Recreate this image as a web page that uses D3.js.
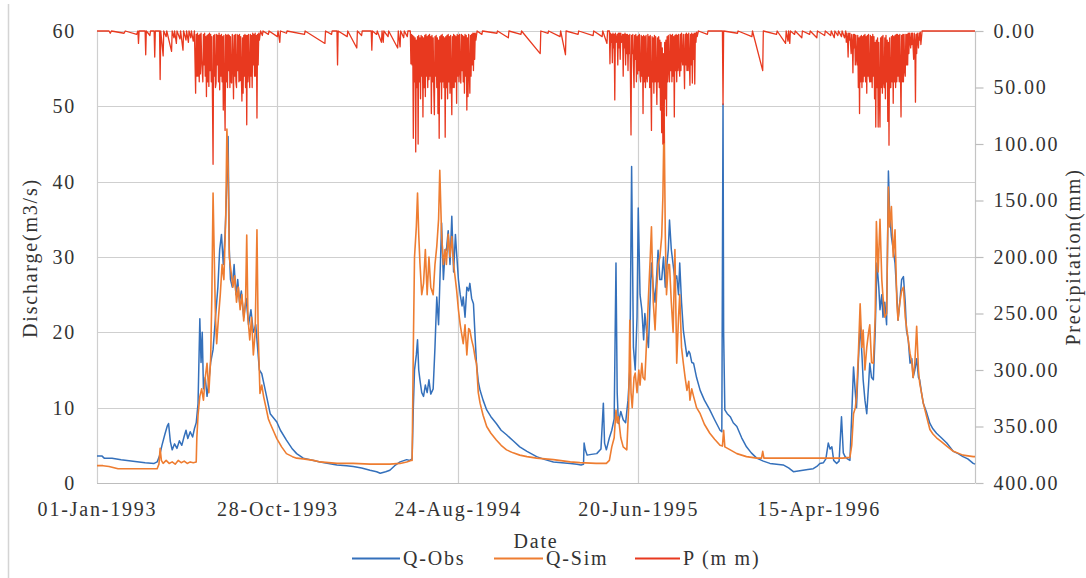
<!DOCTYPE html>
<html>
<head>
<meta charset="utf-8">
<script src="https://cdn.jsdelivr.net/npm/d3@7"></script>
<style>
  html, body { margin: 0; padding: 0; background: #fff; }
  svg { display: block; }
  text { font-family: "Liberation Serif", "Times New Roman", serif; fill: #333; }
</style>
</head>
<body>
<svg id="chart" width="1086" height="578"></svg>
<script>
// ---------- DATA (day offset from 01-Jan-1993, value) ----------
const xTickDays = [0, 300, 600, 900, 1200];
const xTickLabels = ["01-Jan-1993", "28-Oct-1993", "24-Aug-1994", "20-Jun-1995", "15-Apr-1996"];
const yLeftTicks = [0, 10, 20, 30, 40, 50, 60];
const yRightTicks = [0, 50, 100, 150, 200, 250, 300, 350, 400];
const seriesNames = ["Q-Obs", "Q-Sim", "P (m m)"];

// Observed discharge (m3/s)
const qObs = [
[0,3.6],[8,3.6],[12,3.3],[25,3.3],[40,3.1],[60,2.9],[80,2.7],[95,2.6],[100,2.8],[104,3.6],[108,5.0],[113,6.5],[117,7.6],[119,7.9],
[122,5.5],[125,4.4],[129,5.2],[133,4.6],[137,5.6],[141,5.0],[145,6.2],[148,7.0],[151,5.9],[155,6.8],[159,6.1],[162,7.2],[165,8.0],
[168,10.5],[171,21.8],[173,16.0],[175,20.0],[177,12.5],[180,14.0],[183,11.5],[186,13.5],[189,16.0],[193,17.7],[197,22.0],[201,26.0],
[204,31.0],[207,33.0],[210,29.0],[213,33.0],[216,40.0],[218,46.0],[220,31.0],[222,27.0],[225,26.0],[228,29.0],[231,25.0],[234,27.0],
[237,24.0],[240,25.5],[244,22.0],[248,24.5],[252,21.0],[256,23.0],[260,20.0],[264,21.0],[267,18.0],[270,15.0],[274,14.5],[278,13.0],
[282,11.5],[288,9.2],[294,8.6],[299,8.1],[305,7.0],[315,5.7],[325,4.5],[332,3.9],[343,3.3],[360,3.0],[371,2.8],[385,2.6],[399,2.4],
[415,2.3],[426,2.2],[440,2.0],[454,1.7],[465,1.5],[471,1.3],[480,1.5],[487,1.7],[495,2.3],[504,2.8],[515,3.1],[520,3.0],[524,3.2],
[526,10.0],[528,15.0],[531,17.0],[533,19.0],[535,15.0],[537,13.7],[540,12.0],[543,11.5],[546,13.0],[549,12.0],[552,13.7],[555,11.8],
[559,12.5],[562,18.0],[565,24.7],[568,21.0],[571,29.0],[573,34.5],[576,27.0],[579,31.0],[581,30.9],[584,33.5],[587,29.0],[590,35.4],
[593,28.0],[596,33.0],[598,30.5],[601,27.0],[604,25.0],[607,23.5],[609,24.7],[612,22.0],[615,26.0],[618,25.5],[620,26.5],[623,24.5],
[626,23.8],[629,19.0],[631,15.9],[634,13.5],[637,12.3],[642,11.0],[648,9.7],[655,8.8],[664,7.9],[672,7.0],[681,6.4],[692,5.6],
[703,4.8],[715,4.2],[731,3.5],[745,3.1],[759,2.8],[773,2.7],[787,2.6],[798,2.5],[805,2.4],[809,2.5],[810,5.3],[812,4.4],[815,3.7],
[822,3.8],[831,3.9],[838,4.5],[842,10.6],[844,5.3],[847,4.4],[852,6.0],[856,7.0],[860,8.5],[863,29.2],[865,12.0],[867,7.9],[871,9.5],
[875,8.4],[879,8.0],[883,11.0],[886,15.0],[889,42.0],[892,18.0],[895,15.0],[898,22.0],[900,36.5],[903,25.0],[906,23.0],[909,19.0],
[911,22.5],[914,20.0],[917,18.0],[920,25.0],[922,29.2],[925,26.0],[928,24.0],[931,28.0],[933,30.9],[936,27.0],[939,27.0],[942,30.0],
[945,26.0],[947,28.3],[950,31.0],[952,34.9],[955,31.0],[958,29.0],[961,27.0],[964,27.5],[967,25.0],[969,29.2],[972,24.0],[975,20.3],
[978,18.5],[981,16.8],[984,17.5],[986,17.2],[989,16.0],[992,15.9],[997,14.0],[1003,12.3],[1010,11.0],[1019,9.7],[1027,8.4],[1036,7.0],
[1039,6.8],[1041,50.3],[1042,20.0],[1044,9.7],[1048,9.2],[1053,8.8],[1058,8.0],[1064,7.5],[1072,6.0],[1080,4.8],[1088,4.0],[1097,3.3],
[1108,2.9],[1119,2.6],[1130,2.5],[1141,2.4],[1150,2.0],[1158,1.5],[1166,1.6],[1174,1.7],[1182,1.8],[1191,1.9],[1197,2.2],[1202,2.6],
[1208,2.7],[1212,3.2],[1216,5.3],[1219,4.5],[1222,4.8],[1225,3.0],[1230,2.6],[1234,2.9],[1238,8.8],[1241,4.0],[1244,3.5],[1248,3.2],
[1252,3.0],[1255,9.0],[1258,15.4],[1261,12.0],[1263,10.0],[1266,16.0],[1269,21.2],[1272,17.0],[1274,13.7],[1277,11.0],[1280,9.2],
[1283,13.0],[1285,15.9],[1288,14.0],[1291,13.7],[1294,20.0],[1297,29.2],[1300,26.0],[1302,23.0],[1305,25.0],[1307,22.0],[1310,24.0],
[1313,21.0],[1316,41.4],[1318,36.0],[1321,32.7],[1324,31.0],[1327,29.2],[1330,25.0],[1332,21.6],[1335,24.0],[1338,27.0],[1341,27.4],
[1344,24.0],[1346,20.3],[1349,19.0],[1352,15.9],[1355,16.5],[1357,14.0],[1360,15.0],[1363,16.5],[1366,14.0],[1368,13.7],[1371,12.0],
[1374,10.6],[1379,9.5],[1385,7.9],[1390,7.2],[1396,6.6],[1404,6.0],[1413,5.3],[1424,4.2],[1432,3.9],[1440,3.5],[1448,3.2],[1457,2.6],
[1460,2.5]
];

// Simulated discharge (m3/s)
const qSim = [
[0,2.3],[10,2.3],[20,2.2],[30,2.0],[35,1.9],[60,1.9],[90,1.9],[100,1.9],[103,2.5],[105,4.6],[107,3.0],[110,2.6],[115,3.0],[120,2.6],
[125,2.8],[130,2.5],[135,3.0],[140,2.7],[145,2.9],[150,2.6],[155,2.8],[160,2.7],[165,2.8],[166,6.0],[168,9.0],[171,11.5],[174,12.5],
[177,11.0],[180,14.0],[183,15.9],[186,12.0],[189,16.5],[191,25.0],[193,38.5],[195,30.0],[197,22.0],[199,18.5],[202,22.0],[205,25.0],
[208,29.0],[211,27.0],[214,35.0],[216,47.0],[218,42.0],[220,30.0],[223,28.0],[226,26.0],[229,27.5],[232,24.0],[235,26.0],[238,23.0],
[241,25.0],[244,21.5],[247,24.0],[249,32.9],[251,22.0],[254,19.0],[257,22.0],[260,17.0],[263,20.0],[266,33.6],[268,20.0],[271,11.9],
[274,13.0],[277,11.5],[281,10.0],[285,8.5],[288,7.9],[294,6.8],[299,5.9],[307,4.8],[315,3.9],[325,3.5],[332,3.3],[343,3.2],[360,3.0],
[371,2.8],[385,2.7],[399,2.6],[426,2.6],[454,2.5],[487,2.5],[504,2.6],[515,2.8],[522,3.0],[524,3.0],[526,18.0],[528,30.0],[531,34.0],
[533,38.5],[535,33.0],[537,29.2],[540,25.0],[543,26.5],[546,31.0],[549,25.0],[552,30.0],[555,26.0],[559,25.0],[562,29.0],[565,31.4],
[568,35.0],[570,41.5],[573,33.0],[576,29.0],[579,31.0],[581,29.0],[584,33.0],[587,30.0],[590,32.7],[593,29.0],[596,27.0],[598,25.6],
[601,23.0],[604,21.0],[607,19.5],[609,18.5],[612,21.0],[615,17.0],[618,20.5],[620,20.3],[623,19.0],[626,18.0],[629,16.5],[631,15.9],
[634,12.0],[637,10.6],[642,9.0],[648,7.5],[655,6.6],[664,5.7],[672,5.0],[681,4.4],[692,4.0],[703,3.7],[715,3.5],[731,3.3],[759,3.1],
[787,2.8],[803,2.7],[830,2.6],[847,2.6],[852,3.0],[856,4.8],[860,6.0],[863,9.7],[865,8.0],[867,8.8],[871,6.0],[875,4.8],[881,4.4],
[884,10.0],[886,21.6],[888,12.0],[890,10.0],[893,14.0],[895,14.6],[898,12.0],[901,15.0],[903,13.0],[906,15.9],[908,14.0],[911,13.7],
[914,19.0],[917,24.7],[920,30.0],[922,34.0],[925,24.0],[928,20.3],[931,26.0],[933,29.0],[936,30.0],[939,32.7],[941,38.0],[943,49.0],
[945,33.0],[947,25.0],[950,29.0],[952,29.0],[955,24.0],[958,20.0],[961,31.0],[964,15.9],[967,22.0],[969,25.0],[972,18.0],[975,15.9],
[978,14.0],[981,12.3],[984,13.5],[986,11.0],[989,12.5],[992,11.5],[997,10.0],[1003,9.2],[1010,7.8],[1019,6.6],[1027,5.8],[1036,5.0],
[1040,4.9],[1042,7.0],[1044,4.8],[1053,4.4],[1064,3.9],[1080,3.5],[1097,3.3],[1105,3.3],[1107,4.2],[1109,3.3],[1119,3.3],[1141,3.3],
[1200,3.3],[1240,3.3],[1252,3.4],[1255,5.0],[1258,9.2],[1261,10.0],[1263,11.5],[1266,17.0],[1269,23.8],[1272,18.0],[1274,20.3],
[1277,15.0],[1280,18.0],[1283,20.0],[1285,21.0],[1288,16.0],[1291,15.9],[1294,22.0],[1296,34.7],[1299,28.0],[1302,35.0],[1305,27.0],
[1307,24.7],[1310,22.0],[1313,22.5],[1316,39.3],[1318,34.0],[1321,36.7],[1324,30.0],[1327,33.6],[1330,24.0],[1332,21.6],[1335,24.0],
[1338,25.5],[1341,26.0],[1344,22.0],[1346,20.8],[1349,19.0],[1352,17.2],[1355,16.0],[1357,14.0],[1360,16.0],[1363,20.8],[1366,15.0],
[1368,13.3],[1371,12.0],[1374,10.6],[1379,9.0],[1385,7.1],[1390,6.5],[1396,6.0],[1404,5.5],[1413,4.9],[1424,4.2],[1440,3.7],[1457,3.5],
[1460,3.5]
];

// Precipitation (mm), plotted on an inverted right axis
const precip = [
[0,0],[20,0],[22,2],[24,0],[45,2],[47,0],[66,3],[68,0],[69,11],[70,0],[80,0],[81,21],[82,0],[88,4],[89,0],[95,0],[96,23],[97,0],
[104,0],[105,43],[106,0],[110,22],[111,0],[115,5],[116,0],[124,18],[125,0],[128,6],[129,0],[132,11],[133,0],[138,7],[139,0],
[143,17],[144,0],[148,8],[149,0],[152,10],[153,0],[156,6],[157,0],[160,9],[162,0],
[164,55],[165,3],[166,40],[167,2],[168,40],[169,4],[170,45],[171,3],[172,38],[173,2],[174,25],[176,45],[177,3],[178,30],[179,2],
[180,40],[181,5],[182,58],[183,4],[184,45],[185,3],[186,49],[187,2],[188,35],[189,3],[190,45],[191,5],[192,60],[193,118],[194,4],
[195,40],[196,3],[197,50],[198,46],[199,3],[200,30],[201,4],[202,45],[203,2],[204,52],[205,4],[206,40],[207,3],[208,45],[209,5],
[210,70],[211,4],[212,50],[213,88],[214,3],[215,45],[216,4],[217,50],[218,3],[219,35],[220,4],[221,50],[222,5],[223,45],[224,46],
[225,3],[226,25],[227,60],[228,4],[229,40],[230,3],[231,45],[232,50],[233,3],[234,35],[235,4],[236,45],[237,3],[238,44],[239,5],
[240,40],[241,62],[242,6],[243,55],[244,4],[245,40],[246,3],[247,50],[248,4],[249,83],[250,4],[251,45],[252,3],[253,35],[254,50],
[255,3],[256,40],[257,4],[258,50],[259,2],[260,30],[261,3],[262,40],[263,2],[264,40],[265,4],[266,77],[267,3],[268,30],[269,2],
[270,8],[272,0],
[275,4],[276,0],[285,3],[286,0],[300,5],[301,0],[304,10],[305,0],[315,2],[316,0],[345,3],[346,0],[379,11],[380,0],[390,3],[391,0],
[399,0],[400,30],[401,0],[416,5],[417,0],[432,15],[433,0],[440,4],[441,0],[456,0],[457,17],[458,0],[465,3],[466,0],[473,10],[474,0],
[476,10],[477,0],[484,5],[485,0],[500,15],[501,0],[504,14],[505,0],[510,6],[511,0],[516,5],[517,0],[521,0],
[522,29],[523,3],[524,30],[525,4],[526,95],[527,5],[528,45],[529,6],[530,107],[531,8],[532,50],[533,5],[534,100],[535,4],[536,45],
[537,6],[538,60],[539,4],[540,40],[541,5],[542,76],[543,6],[544,50],[545,4],[546,58],[547,3],[548,40],[549,5],[550,50],[551,4],
[552,43],[553,3],[554,40],[555,5],[556,73],[557,4],[558,45],[559,6],[560,50],[561,74],[562,5],[563,40],[564,4],[565,50],[566,6],
[567,73],[568,8],[569,95],[570,5],[571,45],[572,4],[573,60],[574,3],[575,45],[576,5],[577,50],[578,6],[579,94],[580,5],[581,50],
[582,4],[583,60],[584,3],[585,45],[586,5],[587,55],[588,4],[589,40],[590,74],[591,5],[592,50],[593,3],[594,50],[595,4],[596,45],
[597,5],[598,64],[599,3],[600,40],[601,4],[602,45],[603,3],[604,35],[605,46],[606,3],[607,35],[608,4],[609,45],[610,5],[611,55],
[612,3],[613,40],[614,4],[615,70],[616,6],[617,58],[618,3],[619,35],[620,55],[621,4],[622,40],[623,3],[624,30],[625,2],[626,35],
[627,2],[628,25],[629,2],[630,8],[632,0],
[640,3],[641,0],[665,2],[666,0],[684,6],[685,0],[705,3],[706,0],[737,20],[738,0],[750,2],[751,0],[770,5],[771,0],[779,21],[780,0],
[800,3],[801,0],[825,4],[826,0],[840,5],[841,0],[848,11],[849,0],[852,0],
[853,29],[854,2],[855,10],[856,3],[857,28],[858,2],[859,15],[860,3],[861,61],[862,2],[863,10],[865,3],[866,30],[867,2],[868,15],
[869,2],[870,25],[871,2],[872,10],[874,3],[875,40],[876,3],[877,15],[878,2],[879,30],[880,3],[881,20],[882,3],[883,35],[884,4],
[885,20],[886,3],[887,40],[888,92],[889,4],[890,20],[891,3],[892,30],[893,50],[894,4],[895,25],[896,3],[897,45],[898,5],[899,38],
[900,4],[901,35],[902,3],[903,40],[904,45],[905,4],[906,40],[907,5],[908,73],[909,4],[910,45],[911,5],[912,50],[913,4],[914,40],
[915,45],[916,3],[917,40],[918,5],[919,50],[920,4],[921,45],[922,88],[923,5],[924,45],[925,6],[926,55],[927,4],[928,45],[929,5],
[930,40],[931,65],[932,6],[933,45],[934,5],[935,50],[936,8],[937,70],[938,10],[939,90],[940,15],[941,100],[942,20],[943,99],
[944,10],[945,60],[946,8],[947,75],[948,5],[949,45],[950,4],[951,35],[952,45],[953,3],[954,35],[955,4],[956,45],[957,3],[958,40],
[959,5],[960,76],[961,4],[962,35],[963,3],[964,45],[965,4],[966,35],[967,3],[968,30],[969,40],[970,3],[971,35],[972,2],[973,25],
[974,30],[975,3],[976,25],[977,51],[978,3],[979,30],[980,2],[981,35],[982,3],[983,35],[984,2],[985,25],[986,48],[987,3],[988,30],
[989,2],[990,46],[991,3],[992,25],[993,2],[994,47],[995,2],[996,10],[997,1],[998,5],[1000,0],
[1015,3],[1016,0],[1040,0],[1041,65],[1042,0],[1065,2],[1066,0],[1089,5],[1090,0],[1107,35],[1108,0],[1130,3],[1131,0],[1145,11],
[1146,0],[1149,9],[1150,0],[1152,11],[1153,0],[1160,3],[1161,0],[1172,6],[1173,0],[1185,3],[1186,0],[1197,6],[1198,0],[1210,4],
[1211,0],[1220,4],[1221,0],[1226,6],[1227,0],[1232,4],[1233,0],[1238,5],[1239,0],[1243,6],[1245,0],
[1246,10],[1247,2],[1248,6],[1249,23],[1250,2],[1251,8],[1252,2],[1254,20],[1255,3],[1256,10],[1257,37],[1258,3],[1259,15],
[1260,3],[1261,30],[1262,4],[1263,25],[1264,30],[1265,4],[1266,50],[1267,6],[1268,73],[1269,5],[1270,45],[1271,4],[1272,50],
[1273,5],[1274,45],[1275,4],[1276,40],[1277,3],[1278,45],[1279,5],[1280,55],[1281,4],[1282,40],[1283,3],[1284,40],[1285,45],
[1286,4],[1287,45],[1288,5],[1289,50],[1290,3],[1291,40],[1292,5],[1293,60],[1294,10],[1295,85],[1296,8],[1297,50],[1298,6],
[1299,85],[1300,10],[1301,55],[1302,85],[1303,6],[1304,50],[1305,5],[1306,55],[1307,4],[1308,45],[1309,50],[1310,6],[1311,60],
[1312,4],[1313,45],[1314,8],[1315,80],[1316,10],[1317,101],[1318,6],[1319,50],[1320,50],[1321,5],[1322,45],[1323,4],[1324,64],
[1325,5],[1326,45],[1327,4],[1328,50],[1329,3],[1330,45],[1331,3],[1332,40],[1333,4],[1334,45],[1335,3],[1336,35],[1337,76],
[1338,4],[1339,45],[1340,3],[1341,45],[1342,3],[1343,35],[1344,40],[1345,3],[1346,30],[1347,3],[1348,30],[1349,2],[1350,20],
[1351,2],[1353,15],[1354,2],[1355,12],[1356,2],[1358,25],[1359,2],[1360,10],[1361,63],[1362,3],[1363,20],[1364,2],[1366,15],
[1367,2],[1368,8],[1369,1],[1370,12],[1372,0],[1460,0]
];

// ---------- LAYOUT ----------
const W = 1086, H = 578;
const plot = { left: 97, right: 975, top: 31, bottom: 483 };
const colObs = "#3470bb", colSim = "#ee7d31", colP = "#e8391f", colGrid = "#cfcfcf";
const fontSize = 20, ls = "1.8px";

const svg = d3.select("#chart");
svg.append("rect").attr("width", W).attr("height", H).attr("fill", "#fff");
svg.append("line").attr("x1", 8.5).attr("x2", 8.5).attr("y1", 4).attr("y2", H)
  .attr("stroke", "#d4d4d4").attr("stroke-width", 1.5);

const x = d3.scaleLinear().domain([0, 1460]).range([plot.left, plot.right]);
const yL = d3.scaleLinear().domain([0, 60]).range([plot.bottom, plot.top]);
const yR = d3.scaleLinear().domain([0, 400]).range([plot.top, plot.bottom]);

// gridlines
const grid = svg.append("g");
grid.selectAll("line.h").data(yLeftTicks).join("line")
  .attr("x1", plot.left).attr("x2", plot.right)
  .attr("y1", d => Math.round(yL(d)) + 0.5).attr("y2", d => Math.round(yL(d)) + 0.5)
  .attr("stroke", colGrid).attr("stroke-width", 1.2);
grid.selectAll("line.v").data(xTickDays).join("line")
  .attr("x1", d => Math.round(x(d)) + 0.5).attr("x2", d => Math.round(x(d)) + 0.5)
  .attr("y1", plot.top).attr("y2", plot.bottom)
  .attr("stroke", colGrid).attr("stroke-width", 1.2);
svg.append("line").attr("x1", plot.right + 0.5).attr("x2", plot.right + 0.5)
  .attr("y1", plot.top).attr("y2", plot.bottom).attr("stroke", "#c4c4c4").attr("stroke-width", 1.2);
svg.append("line").attr("x1", plot.left).attr("x2", plot.right)
  .attr("y1", plot.bottom + 0.5).attr("y2", plot.bottom + 0.5).attr("stroke", "#bdbdbd").attr("stroke-width", 1.2);

// series
const lineQ = d3.line().x(d => x(d[0])).y(d => yL(d[1]));
const lineP = d3.line().x(d => x(d[0])).y(d => yR(d[1]));
svg.append("path").datum(qObs).attr("d", lineQ).attr("fill", "none")
  .attr("stroke", colObs).attr("stroke-width", 1.5).attr("stroke-linejoin", "round");
svg.append("path").datum(qSim).attr("d", lineQ).attr("fill", "none")
  .attr("stroke", colSim).attr("stroke-width", 1.6).attr("stroke-linejoin", "round");
svg.append("path").datum(precip).attr("d", lineP).attr("fill", "none")
  .attr("stroke", colP).attr("stroke-width", 1.3).attr("stroke-linejoin", "round");

function styleText(sel) {
  sel.attr("font-size", fontSize).attr("letter-spacing", ls)
    .style("font-family", '"Liberation Serif", "Times New Roman", serif').attr("fill", "#333");
}

// left axis
const axL = d3.axisLeft(yL).tickValues(yLeftTicks).tickSize(0).tickPadding(0).tickFormat(d3.format("d"));
const gL = svg.append("g").attr("transform", "translate(76,0)").call(axL);
gL.select(".domain").remove();
styleText(gL.selectAll("text"));

// right axis
const axR = d3.axisRight(yR).tickValues(yRightTicks).tickSize(8).tickPadding(10).tickFormat(d3.format(".2f"));
const gR = svg.append("g").attr("transform", `translate(${plot.right + 0.5},0)`).call(axR);
gR.select(".domain").remove();
gR.selectAll("line").attr("stroke", "#bdbdbd").attr("stroke-width", 1.2);
styleText(gR.selectAll("text"));

// bottom axis
const axB = d3.axisBottom(x).tickValues(xTickDays).tickSize(0).tickPadding(0)
  .tickFormat((d, i) => xTickLabels[i]);
const gB = svg.append("g").attr("transform", "translate(0,502)").call(axB);
gB.select(".domain").remove();
styleText(gB.selectAll("text"));

// axis titles
styleText(svg.append("text").attr("x", 536).attr("y", 548).attr("text-anchor", "middle").text("Date"));
styleText(svg.append("text").attr("transform", "translate(37,258) rotate(-90)").attr("text-anchor", "middle").text("Discharge(m3/s)"));
styleText(svg.append("text").attr("transform", "translate(1080,257) rotate(-90)").attr("text-anchor", "middle").text("Precipitation(mm)"));

// legend
const legend = [
  { name: seriesNames[0], color: colObs, x1: 352, x2: 400 },
  { name: seriesNames[1], color: colSim, x1: 494, x2: 543 },
  { name: seriesNames[2], color: colP, x1: 635, x2: 680 }
];
const lg = svg.append("g");
legend.forEach(l => {
  lg.append("line").attr("x1", l.x1).attr("x2", l.x2).attr("y1", 558.5).attr("y2", 558.5)
    .attr("stroke", l.color).attr("stroke-width", 1.8);
  styleText(lg.append("text").attr("x", l.x2 + 3).attr("y", 565).text(l.name));
});
</script>
</body>
</html>
